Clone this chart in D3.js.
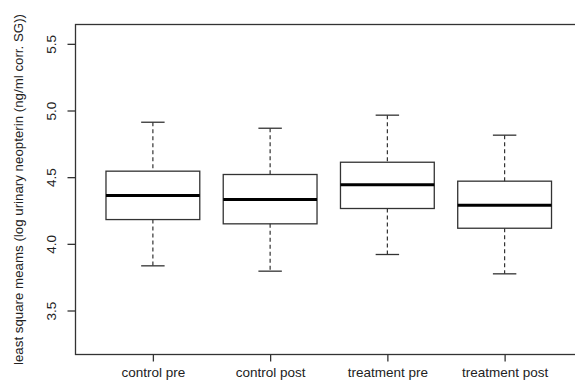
<!DOCTYPE html>
<html>
<head>
<meta charset="utf-8">
<script src="https://cdn.jsdelivr.net/npm/d3@7"></script>
<style>
  html, body { margin: 0; padding: 0; background: #fff; }
  svg { display: block; font-family: "Liberation Sans", Arial, sans-serif; }
</style>
</head>
<body>
<svg id="chart" width="575" height="391"></svg>
<script>
const categories = ["control pre", "control post", "treatment pre", "treatment post"];
const whiskerLow  = [3.835, 3.795, 3.92, 3.775];
const q1          = [4.182, 4.15, 4.265, 4.117];
const medians     = [4.362, 4.332, 4.443, 4.29];
const q3          = [4.545, 4.52, 4.612, 4.47];
const whiskerHigh = [4.912, 4.867, 4.965, 4.815];
const yTicks = [3.5, 4.0, 4.5, 5.0, 5.5];
const yLabel = "least square meams (log urinary neopterin (ng/ml corr. SG))";

const svg = d3.select("#chart");
const plot = { left: 75.5, right: 582, top: 24.5, bottom: 354.5 };

const x = d3.scaleLinear().domain([0.34, 4.66]).range([plot.left, plot.right]);
const y = d3.scaleLinear().domain([3.17, 5.645]).range([plot.bottom, plot.top]);

const lineCol = "#333";
const boxW = x(1.4) - x(1);    // half box width (0.4 units)
const capW = boxW * 0.25;

const data = categories.map((c, i) => ({
  c, i: i + 1, lo: whiskerLow[i], q1: q1[i], med: medians[i], q3: q3[i], hi: whiskerHigh[i]
}));

const g = svg.append("g");
const boxes = g.selectAll("g.box").data(data).enter().append("g").attr("class", "box");

// whiskers (dashed)
boxes.append("line")
  .attr("x1", d => x(d.i)).attr("x2", d => x(d.i))
  .attr("y1", d => y(d.hi)).attr("y2", d => y(d.q3))
  .attr("stroke", lineCol).attr("stroke-width", 1.2).attr("stroke-dasharray", "4,3");
boxes.append("line")
  .attr("x1", d => x(d.i)).attr("x2", d => x(d.i))
  .attr("y1", d => y(d.q1)).attr("y2", d => y(d.lo))
  .attr("stroke", lineCol).attr("stroke-width", 1.2).attr("stroke-dasharray", "4,3");
// caps
boxes.append("line")
  .attr("x1", d => x(d.i) - capW).attr("x2", d => x(d.i) + capW)
  .attr("y1", d => y(d.hi)).attr("y2", d => y(d.hi))
  .attr("stroke", lineCol).attr("stroke-width", 1.3);
boxes.append("line")
  .attr("x1", d => x(d.i) - capW).attr("x2", d => x(d.i) + capW)
  .attr("y1", d => y(d.lo)).attr("y2", d => y(d.lo))
  .attr("stroke", lineCol).attr("stroke-width", 1.3);
// box
boxes.append("rect")
  .attr("x", d => x(d.i) - boxW).attr("width", 2 * boxW)
  .attr("y", d => y(d.q3)).attr("height", d => y(d.q1) - y(d.q3))
  .attr("fill", "none").attr("stroke", lineCol).attr("stroke-width", 1.3);
// median
boxes.append("line")
  .attr("x1", d => x(d.i) - boxW).attr("x2", d => x(d.i) + boxW)
  .attr("y1", d => y(d.med)).attr("y2", d => y(d.med))
  .attr("stroke", "#000").attr("stroke-width", 3);

// frame
svg.append("rect")
  .attr("x", plot.left).attr("y", plot.top)
  .attr("width", plot.right - plot.left).attr("height", plot.bottom - plot.top)
  .attr("fill", "none").attr("stroke", lineCol).attr("stroke-width", 1.3);

// y axis
const yAxis = svg.append("g").attr("transform", `translate(${plot.left},0)`)
  .call(d3.axisLeft(y).tickValues(yTicks).tickFormat(d3.format(".1f")).tickSize(8).tickPadding(0));
yAxis.select(".domain").remove();
yAxis.selectAll(".tick line").attr("stroke", lineCol).attr("stroke-width", 1.3);
yAxis.selectAll(".tick text")
  .attr("x", 0).attr("dy", null)
  .attr("transform", "translate(-24.5,0) rotate(-90)")
  .attr("text-anchor", "middle").attr("dominant-baseline", "central")
  .attr("font-size", 13.5).attr("fill", "#222")
  .style("font-family", "'Liberation Sans', Arial, sans-serif");

// x axis
const xAxis = svg.append("g").attr("transform", `translate(0,${plot.bottom})`)
  .call(d3.axisBottom(x).tickValues([1, 2, 3, 4]).tickFormat(d => categories[d - 1]).tickSize(7).tickPadding(0));
xAxis.select(".domain").remove();
xAxis.selectAll(".tick line").attr("stroke", lineCol).attr("stroke-width", 1.3);
xAxis.selectAll(".tick text")
  .attr("y", 22).attr("dy", null)
  .attr("font-size", 13.5).attr("fill", "#222")
  .style("font-family", "'Liberation Sans', Arial, sans-serif");

// y label
svg.append("text")
  .attr("transform", `translate(18,${(plot.top + plot.bottom) / 2}) rotate(-90)`)
  .attr("text-anchor", "middle").attr("dominant-baseline", "central")
  .attr("font-size", 13.3).attr("fill", "#222")
  .text(yLabel);
</script>
</body>
</html>
